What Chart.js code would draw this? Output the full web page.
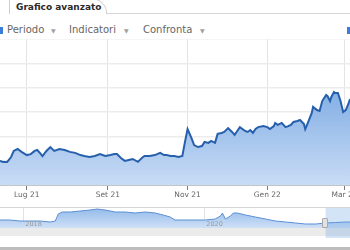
<!DOCTYPE html>
<html><head><meta charset="utf-8">
<script src="https://cdn.jsdelivr.net/npm/chart.js@4.4.0/dist/chart.umd.min.js"></script>
<style>
html,body{margin:0;padding:0;background:#fff;overflow:hidden;width:350px;height:250px;}
#wrap{position:relative;width:350px;height:250px;overflow:hidden;font-family:"DejaVu Sans",Verdana,sans-serif;}
.tab{position:absolute;left:9px;top:-2px;width:96px;height:15px;border:1px solid #cfcfcf;border-bottom:none;border-top-right-radius:16px 15px;background:#fff;z-index:2;}
.tab span{position:absolute;left:6px;top:3px;font-size:9px;font-weight:bold;color:#2a2a2a;white-space:nowrap;}
.tabline{position:absolute;left:105px;top:13px;width:260px;height:1px;background:#d6d6d6;}
.tb{position:absolute;top:24px;font-size:10px;color:#666;white-space:nowrap;}
.arr{position:absolute;top:27px;font-size:6px;color:#a0a0a0;}
.ico{position:absolute;top:27px;width:3px;height:7px;background:#3b7dd8;}
#main{position:absolute;left:0;top:39px;}
#nav{position:absolute;left:0;top:207px;}
.handle{position:absolute;left:322px;top:218px;width:4px;height:8px;background:#e2e2e2;border:1px solid #a8a8a8;border-radius:1px;}
.bottombar{position:absolute;left:0;top:247px;width:350px;height:3px;background:#bdbdbd;}
</style></head><body>
<div id="wrap">
  <div class="tab"><span>Grafico avanzato</span></div>
  <div class="tabline"></div>
  <div class="ico" style="left:0"></div>
  <div class="tb" style="left:7px">Periodo</div><div class="arr" style="left:51px">▼</div>
  <div class="tb" style="left:69px">Indicatori</div><div class="arr" style="left:124px">▼</div>
  <div class="tb" style="left:143px">Confronta</div><div class="arr" style="left:200px">▼</div>
  <div class="ico" style="left:347px"></div>
  <canvas id="main" width="400" height="161"></canvas>
  <canvas id="nav" width="400" height="33"></canvas>
  <div class="handle"></div>
  <div class="bottombar"></div>
</div>
<script>
// ---- main chart data ----
const dates = ["2021-06-10","2021-06-13","2021-06-16","2021-06-19","2021-06-21","2021-06-24","2021-06-27",
"2021-07-01","2021-07-04","2021-07-07","2021-07-09","2021-07-11","2021-07-13","2021-07-16","2021-07-19","2021-07-22","2021-07-26","2021-07-30",
"2021-08-03","2021-08-07","2021-08-11","2021-08-14","2021-08-18","2021-08-22","2021-08-26","2021-08-30",
"2021-09-03","2021-09-06","2021-09-08","2021-09-11","2021-09-14","2021-09-17","2021-09-20","2021-09-24","2021-09-27","2021-09-29",
"2021-10-03","2021-10-07","2021-10-11","2021-10-14","2021-10-16","2021-10-19","2021-10-22","2021-10-25","2021-10-28","2021-10-30",
"2021-11-01","2021-11-04","2021-11-06","2021-11-09","2021-11-12","2021-11-14","2021-11-17","2021-11-19","2021-11-22","2021-11-24","2021-11-27","2021-11-29",
"2021-12-02","2021-12-05","2021-12-07","2021-12-09","2021-12-11","2021-12-14","2021-12-15","2021-12-17","2021-12-19","2021-12-21","2021-12-23","2021-12-25","2021-12-29",
"2022-01-01","2022-01-03","2022-01-06","2022-01-07","2022-01-09","2022-01-12","2022-01-15","2022-01-17","2022-01-19","2022-01-21","2022-01-24","2022-01-26","2022-01-29","2022-01-30",
"2022-02-01","2022-02-04","2022-02-05","2022-02-08","2022-02-10","2022-02-12","2022-02-15","2022-02-16","2022-02-18","2022-02-19","2022-02-21","2022-02-22","2022-02-24","2022-02-26","2022-02-28",
"2022-03-02","2022-03-04","2022-03-05","2022-03-07"];
const prices = [0.99,0.95,0.95,1.15,1.40,1.48,1.36,
1.23,1.27,1.40,1.44,1.32,1.19,1.40,1.56,1.40,1.48,1.44,
1.36,1.32,1.23,1.19,1.15,1.19,1.27,1.19,
1.23,1.27,1.27,1.11,0.99,1.03,1.07,0.95,1.11,1.19,
1.19,1.23,1.32,1.23,1.23,1.19,1.19,1.15,1.19,1.77,
2.30,1.93,1.64,1.56,1.60,1.77,1.73,1.81,1.73,2.10,2.14,2.18,
2.34,2.18,2.06,2.22,2.38,2.26,2.22,2.18,2.26,2.14,2.30,2.38,2.42,
2.38,2.30,2.42,2.55,2.47,2.55,2.38,2.42,2.47,2.59,2.63,2.67,2.51,2.30,
2.55,2.96,3.21,3.08,3.04,3.45,3.70,3.66,3.45,3.62,3.82,3.78,3.78,3.45,3.00,
3.08,3.33,3.49,3.58];
const tickDates = ["2021-07-01","2021-09-01","2021-11-01","2022-01-01","2022-03-01"];
const tickLabels = ["Lug 21","Set 21","Nov 21","Gen 22","Mar 22"];
const mainRange = ["2021-06-10T12:00:00Z","2022-04-12T12:00:00Z"];

// ---- navigator data ----
const navDates = ["2017-09-29","2017-11-08","2017-12-19","2018-01-29","2018-03-10","2018-04-19","2018-05-10","2018-05-22","2018-06-07",
"2018-07-09","2018-08-18","2018-09-27","2018-10-26","2018-11-27","2019-01-07","2019-02-16","2019-03-28","2019-05-08","2019-06-17",
"2019-07-19","2019-08-16","2019-09-05","2019-10-16","2019-11-25","2020-01-05","2020-02-14","2020-03-06","2020-03-14","2020-03-26",
"2020-04-15","2020-04-27","2020-05-13","2020-06-15","2020-07-25","2020-09-03","2020-10-14","2020-11-23","2021-01-03","2021-02-12",
"2021-03-25","2021-05-04","2021-06-13","2021-07-23","2021-08-12","2021-09-01"];
const navValues = [8,8,7,7,7,6,7,14,16,
16,17,18,19,18,16,16,15,16,15,
13,11,8,8,8,8,9,12,15,9,
12,15,15,13,11,9,7,6,5,4,
4,5,5.5,6,6,6];
const navYearDates = ["2018-01-01","2020-01-01"];
const navYearLabels = ["2018","2020"];
const navRange = ["2017-09-29","2022-02-28"];
const navSelStart = "2021-05-04";

const FONT = "'DejaVu Sans', Verdana, sans-serif";
const P = d => Date.parse(d.length === 10 ? d + "T00:00:00Z" : d);

function grad(ctx, area, c0, c1) {
  const g = ctx.createLinearGradient(0, area.top, 0, area.bottom);
  g.addColorStop(0, c0); g.addColorStop(1, c1); return g;
}

new Chart(document.getElementById('main'), {
  type: 'line',
  data: { datasets: [{
    data: dates.map((d, i) => ({ x: P(d), y: prices[i] })),
    borderColor: '#2660ac', borderWidth: 2, pointRadius: 0, tension: 0,
    fill: 'origin',
    backgroundColor: c => c.chart.chartArea ? grad(c.chart.ctx, c.chart.chartArea, '#5e96dc', '#c8dcf5') : '#9cc0ec'
  }]},
  options: {
    responsive: false, animation: false, events: [],
    layout: { padding: 0 },
    plugins: { legend: { display: false }, tooltip: { enabled: false } },
    scales: {
      x: {
        type: 'linear', min: P(mainRange[0]), max: P(mainRange[1]),
        afterBuildTicks: s => { s.ticks = tickDates.map(d => ({ value: P(d) })); },
        afterFit: s => { s.height = 15; },
        ticks: { autoSkip: false, maxRotation: 0, padding: 1, color: '#666', font: { family: FONT, size: 7.5 },
          callback: (v, i) => tickLabels[i] },
        grid: { color: '#e4e4e4', tickColor: '#7a7a7a', tickLength: 5, lineWidth: 1 },
        border: { display: true, color: '#c4c4c4' }
      },
      y: {
        position: 'right', min: 0, max: 6,
        ticks: { display: false, stepSize: 1 },
        afterFit: s => { s.width = 0; },
        grid: { color: '#ececec', drawTicks: false, lineWidth: 1.5 },
        border: { display: false }
      }
    }
  }
});

const navPlugin = {
  id: 'navExtras',
  beforeDatasetsDraw(chart) {
    const { ctx, chartArea } = chart;
    ctx.save();
    ctx.fillStyle = '#ebebeb';
    ctx.fillRect(0, chartArea.bottom, chart.width, 8);
    ctx.restore();
  },
  afterDatasetsDraw(chart) {
    const { ctx, chartArea, scales } = chart;
    ctx.save();
    ctx.fillStyle = '#9a9a9a';
    ctx.font = "6.5px " + FONT;
    ctx.textBaseline = 'middle';
    navYearDates.forEach((d, i) => {
      ctx.fillText(navYearLabels[i], scales.x.getPixelForValue(P(d)) + 2, chartArea.bottom - 4);
    });
    const sx = scales.x.getPixelForValue(P(navSelStart));
    ctx.fillStyle = 'rgba(110,165,230,0.30)';
    ctx.fillRect(sx, 0, chart.width - sx, chartArea.bottom + 10);
    ctx.strokeStyle = '#d6d6d6'; ctx.lineWidth = 1;
    ctx.beginPath(); ctx.moveTo(0, 0.5); ctx.lineTo(chart.width, 0.5); ctx.stroke();
    ctx.restore();
  }
};

new Chart(document.getElementById('nav'), {
  type: 'line',
  data: { datasets: [{
    data: navDates.map((d, i) => ({ x: P(d), y: navValues[i] })),
    borderColor: '#5b8fd2', borderWidth: 1, pointRadius: 0, tension: 0,
    fill: 'origin',
    backgroundColor: c => c.chart.chartArea ? grad(c.chart.ctx, c.chart.chartArea, '#8fb8ea', '#cfe0f6') : '#b0cdf0'
  }]},
  plugins: [navPlugin],
  options: {
    responsive: false, animation: false, events: [],
    layout: { padding: { top: 0, bottom: 12, left: 0, right: 0 } },
    plugins: { legend: { display: false }, tooltip: { enabled: false } },
    scales: {
      x: {
        type: 'linear', min: P(navRange[0]), max: P(navRange[1]),
        afterBuildTicks: s => { s.ticks = navYearDates.map(d => ({ value: P(d) })); },
        afterFit: s => { s.height = 0; },
        ticks: { display: false },
        grid: { color: '#e2e2e2', drawTicks: false },
        border: { display: false }
      },
      y: { display: false, min: 0, max: 21 }
    }
  }
});
</script>
</body></html>
